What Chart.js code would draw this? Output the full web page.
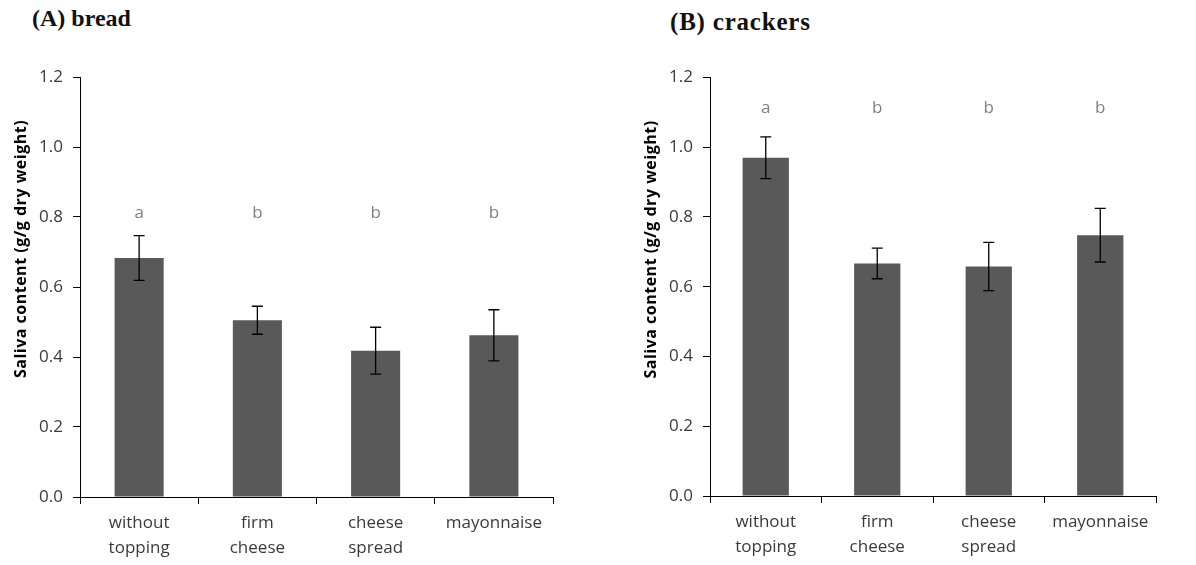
<!DOCTYPE html>
<html>
<head>
<meta charset="utf-8">
<script src="https://cdn.jsdelivr.net/npm/chart.js@4"></script>
<style>
  html, body { margin: 0; padding: 0; background: #ffffff; }
  body { width: 1196px; height: 565px; position: relative; overflow: hidden; }
  .panel { position: absolute; top: 0; height: 565px; }
  .heading {
    position: absolute; margin: 0; white-space: nowrap;
    font-family: "Liberation Serif", "Times New Roman", serif;
    font-weight: bold; font-size: 24px; line-height: 24px; color: #111111;
  }
</style>
</head>
<body>
<h2 class="heading" style="left:32px; top:6px;">(A) bread</h2>
<h2 class="heading" style="left:670px; top:10px; font-size:25px; letter-spacing:0.8px;">(B) crackers</h2>
<div class="panel" style="left:0px; width:598px;"><canvas id="chartBread" width="598" height="565"></canvas></div>
<div class="panel" style="left:630px; width:566px;"><canvas id="chartCrackers" width="566" height="565"></canvas></div>

<script>
// Treatments (two-line category labels)
const categories = [["without", "topping"], ["firm", "cheese"], ["cheese", "spread"], ["mayonnaise"]];

// Saliva content (g/g dry weight): means and standard errors
const breadMeans = [0.683, 0.505, 0.418, 0.462];
const breadErrors = [0.064, 0.040, 0.067, 0.073];
const crackersMeans = [0.970, 0.667, 0.658, 0.748];
const crackersErrors = [0.060, 0.044, 0.069, 0.077];

// Significance groups
const breadLetters = ["a", "b", "b", "b"];
const crackersLetters = ["a", "b", "b", "b"];

// Y axis ticks
const yTicks = [0.0, 0.2, 0.4, 0.6, 0.8, 1.0, 1.2];

const yTitle = "Saliva content (g/g dry weight)";
const labelFont = "'Open Sans', 'Liberation Sans', sans-serif";
const textColor = "#3a3a3a";

// Whisker bars drawn from the error arrays
const errorBarPlugin = {
  id: "errorBars",
  afterDatasetsDraw(chart, args, opts) {
    const ctx = chart.ctx;
    const y = chart.scales.y;
    const meta = chart.getDatasetMeta(0);
    const means = chart.data.datasets[0].data;
    ctx.save();
    ctx.strokeStyle = "#000000";
    ctx.lineWidth = 1.3;
    meta.data.forEach((bar, i) => {
      const err = opts.errors[i];
      const top = y.getPixelForValue(means[i] + err);
      const bot = y.getPixelForValue(means[i] - err);
      const x = bar.x;
      const cap = 5.5;
      ctx.beginPath();
      ctx.moveTo(x, top); ctx.lineTo(x, bot);
      ctx.moveTo(x - cap, top); ctx.lineTo(x + cap, top);
      ctx.moveTo(x - cap, bot); ctx.lineTo(x + cap, bot);
      ctx.stroke();
    });
    ctx.restore();
  }
};

// Group letters above the bars
const letterPlugin = {
  id: "groupLetters",
  afterDatasetsDraw(chart, args, opts) {
    const ctx = chart.ctx;
    const y = chart.scales.y.getPixelForValue(opts.level);
    const meta = chart.getDatasetMeta(0);
    ctx.save();
    ctx.fillStyle = "#7f7f7f";
    ctx.font = "17px " + labelFont;
    ctx.textAlign = "center";
    ctx.textBaseline = "middle";
    meta.data.forEach((bar, i) => ctx.fillText(opts.letters[i], bar.x, y));
    ctx.restore();
  }
};

// Rotated axis title placed in the upper part of the axis
const yTitlePlugin = {
  id: "yTitle",
  afterDraw(chart, args, opts) {
    const ctx = chart.ctx;
    const area = chart.chartArea;
    ctx.save();
    ctx.translate(area.left - opts.dx, area.top + opts.dy);
    ctx.rotate(-Math.PI / 2);
    ctx.fillStyle = "#000000";
    ctx.font = "bold 16px " + labelFont;
    if ("letterSpacing" in ctx) ctx.letterSpacing = "0.5px";
    ctx.textAlign = "center";
    ctx.textBaseline = "middle";
    ctx.fillText(yTitle, 0, 0);
    ctx.restore();
  }
};

function makeChart(canvasId, means, errors, letters, letterLevel, pad, xHeight) {
  return new Chart(document.getElementById(canvasId), {
    type: "bar",
    data: {
      labels: categories,
      datasets: [{
        data: means,
        backgroundColor: "#595959",
        borderWidth: 0,
        categoryPercentage: 1.0,
        barPercentage: 0.415
      }]
    },
    options: {
      responsive: false,
      animation: false,
      events: [],
      layout: { padding: pad },
      plugins: {
        legend: { display: false },
        tooltip: { enabled: false },
        title: { display: false },
        errorBars: { errors: errors },
        groupLetters: { letters: letters, level: letterLevel },
        yTitle: { dx: 59, dy: 172 }
      },
      scales: {
        x: {
          z: 1,
          afterFit(scale) { scale.height = xHeight; },
          border: { display: true, color: "#000000", width: 1 },
          grid: {
            offset: true,
            drawOnChartArea: false,
            drawTicks: true,
            tickLength: 7,
            color: "#000000",
            lineWidth: 1
          },
          ticks: {
            color: textColor,
            padding: 7,
            maxRotation: 0,
            font: { family: labelFont, size: 17, lineHeight: 1.47 }
          }
        },
        y: {
          min: 0,
          max: 1.2,
          afterFit(scale) { scale.width = 80; },
          afterBuildTicks(scale) { scale.ticks = yTicks.map(v => ({ value: v })); },
          border: { display: true, color: "#000000", width: 1 },
          grid: {
            drawOnChartArea: false,
            drawTicks: true,
            tickLength: 7,
            color: "#000000",
            lineWidth: 1
          },
          ticks: {
            color: textColor,
            padding: 10,
            font: { family: labelFont, size: 17 },
            callback: v => Number(v).toFixed(1)
          }
        }
      }
    },
    plugins: [errorBarPlugin, letterPlugin, yTitlePlugin]
  });
}

makeChart("chartBread", breadMeans, breadErrors, breadLetters, 0.811,
  { left: 0, top: 77, right: 45, bottom: 0 }, 68);
makeChart("chartCrackers", crackersMeans, crackersErrors, crackersLetters, 1.113,
  { left: 0, top: 77.5, right: 40, bottom: 0 }, 69);
</script>
</body>
</html>
